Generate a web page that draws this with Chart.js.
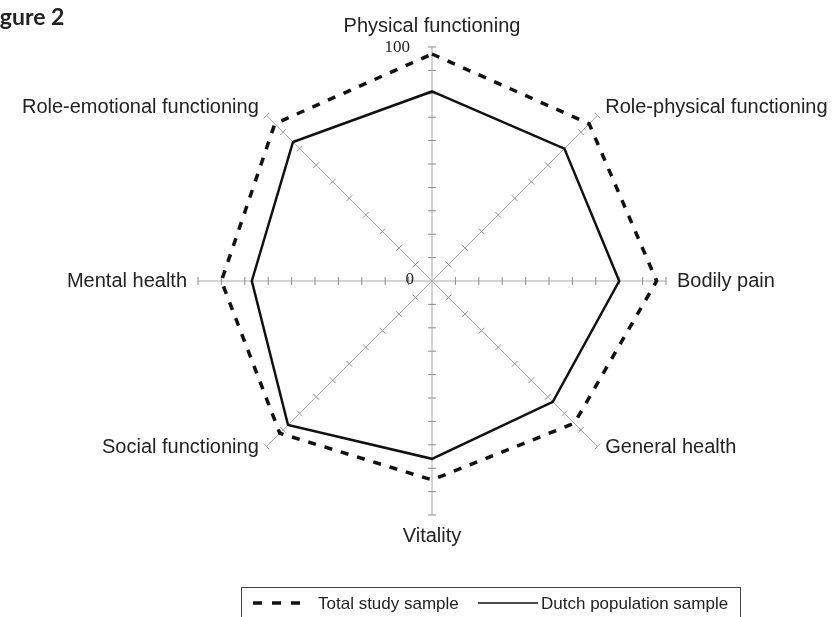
<!DOCTYPE html>
<html>
<head>
<meta charset="utf-8">
<script src="https://cdn.jsdelivr.net/npm/chart.js@4.4.1/dist/chart.umd.min.js"></script>
<style>
	html, body { margin: 0; padding: 0; background: #fff; }
	#wrap { position: relative; width: 834px; height: 617px; overflow: hidden; }
	#fig { position: absolute; left: -19px; top: 2px; font: bold 23px Lato, "Open Sans", sans-serif; color: #222; }
	canvas { position: absolute; left: 0; top: 0; }
</style>
</head>
<body>
<div id="wrap">
	<canvas id="radarChart" width="834" height="617"></canvas>
	<div id="fig">Figure 2</div>
</div>
<script>
// scales and categories
const categories = [
	'Physical functioning',
	'Role-physical functioning',
	'Bodily pain',
	'General health',
	'Vitality',
	'Social functioning',
	'Mental health',
	'Role-emotional functioning'
];
const tickValues = [10, 20, 30, 40, 50, 60, 70, 80, 90, 100];
const axisLabels = ['0', '100'];

// series
const totalStudy = [97, 95, 96, 86, 85, 92, 90, 95];
const dutchPopulation = [81, 80, 80, 73, 76, 87, 77, 84];
const seriesNames = ['Total study sample', 'Dutch population sample'];

const DASH = [8, 9];

/* -------------------------------------------------------------
 * spoke ticks, axis numbers and point labels
 * ------------------------------------------------------------- */
const spokePlugin = {
	id: 'spokes',
	beforeDatasetsDraw(chart) {
		const ctx = chart.ctx;
		const r = chart.scales.r;
		ctx.save();
		ctx.strokeStyle = '#8a8a8a';
		ctx.lineWidth = 1;
		categories.forEach((_, i) => {
			const a = r.getIndexAngle(i) - Math.PI / 2;
			const px = -Math.sin(a), py = Math.cos(a);
			tickValues.forEach(v => {
				const p = r.getPointPosition(i, r.getDistanceFromCenterForValue(v));
				ctx.beginPath();
				ctx.moveTo(p.x - px * 4, p.y - py * 4);
				ctx.lineTo(p.x + px * 4, p.y + py * 4);
				ctx.stroke();
			});
		});

		// 0 and 100
		ctx.fillStyle = '#222';
		ctx.font = '17px "Liberation Serif", "DejaVu Serif", serif';
		ctx.textAlign = 'right';
		ctx.textBaseline = 'middle';
		ctx.fillText(axisLabels[0], r.xCenter - 18, r.yCenter - 1);
		const top = r.getPointPosition(0, r.getDistanceFromCenterForValue(100));
		ctx.fillText(axisLabels[1], top.x - 22, top.y + 1);

		// category labels
		ctx.font = '20px "Liberation Sans", Arial, sans-serif';
		categories.forEach((label, i) => {
			const p = r.getPointPosition(i, r.drawingArea + 11);
			const a = r.getIndexAngle(i);
			const s = Math.sin(a), c = Math.cos(a);
			ctx.textAlign = Math.abs(s) < 0.01 ? 'center' : (s > 0 ? 'left' : 'right');
			ctx.textBaseline = Math.abs(c) > 0.99 ? (c > 0 ? 'bottom' : 'top') : 'middle';
			let y = p.y;
			if (Math.abs(c) < 0.99 && c < -0.01) y -= 7;
			ctx.fillText(label, p.x, y);
		});
		ctx.restore();
	},
	afterDraw(chart) {
		// boxed legend at the bottom
		const ctx = chart.ctx;
		ctx.save();
		ctx.strokeStyle = '#444';
		ctx.lineWidth = 1;
		ctx.strokeRect(241.5, 587.5, 499, 40);

		ctx.strokeStyle = '#111';
		ctx.lineWidth = 3.5;
		ctx.setLineDash([9, 10]);
		ctx.beginPath();
		ctx.moveTo(253, 603);
		ctx.lineTo(307, 603);
		ctx.stroke();

		ctx.setLineDash([]);
		ctx.lineWidth = 1.5;
		ctx.beginPath();
		ctx.moveTo(478, 603);
		ctx.lineTo(538, 603);
		ctx.stroke();

		ctx.fillStyle = '#222';
		ctx.font = '17px "Liberation Sans", Arial, sans-serif';
		ctx.textAlign = 'left';
		ctx.textBaseline = 'middle';
		ctx.fillText(seriesNames[0], 318, 604);
		ctx.fillText(seriesNames[1], 541, 604);
		ctx.restore();
	}
};

new Chart(document.getElementById('radarChart'), {
	type: 'radar',
	data: {
		labels: categories,
		datasets: [
			{
				label: seriesNames[0],
				data: totalStudy,
				borderColor: '#111',
				borderWidth: 3.5,
				borderDash: DASH,
				fill: false,
				pointRadius: 0,
				tension: 0
			},
			{
				label: seriesNames[1],
				data: dutchPopulation,
				borderColor: '#111',
				borderWidth: 2.5,
				fill: false,
				pointRadius: 0,
				tension: 0
			}
		]
	},
	options: {
		responsive: false,
		animation: false,
		devicePixelRatio: 1,
		layout: { padding: { left: 198, right: 168, top: 47, bottom: 102 } },
		plugins: {
			legend: { display: false },
			tooltip: { enabled: false }
		},
		scales: {
			r: {
				min: 0,
				max: 100,
				ticks: { display: false, stepSize: 10 },
				grid: { display: false },
				angleLines: { display: true, color: '#a8a8a8', lineWidth: 1 },
				pointLabels: { display: false }
			}
		}
	},
	plugins: [spokePlugin]
});
</script>
</body>
</html>
